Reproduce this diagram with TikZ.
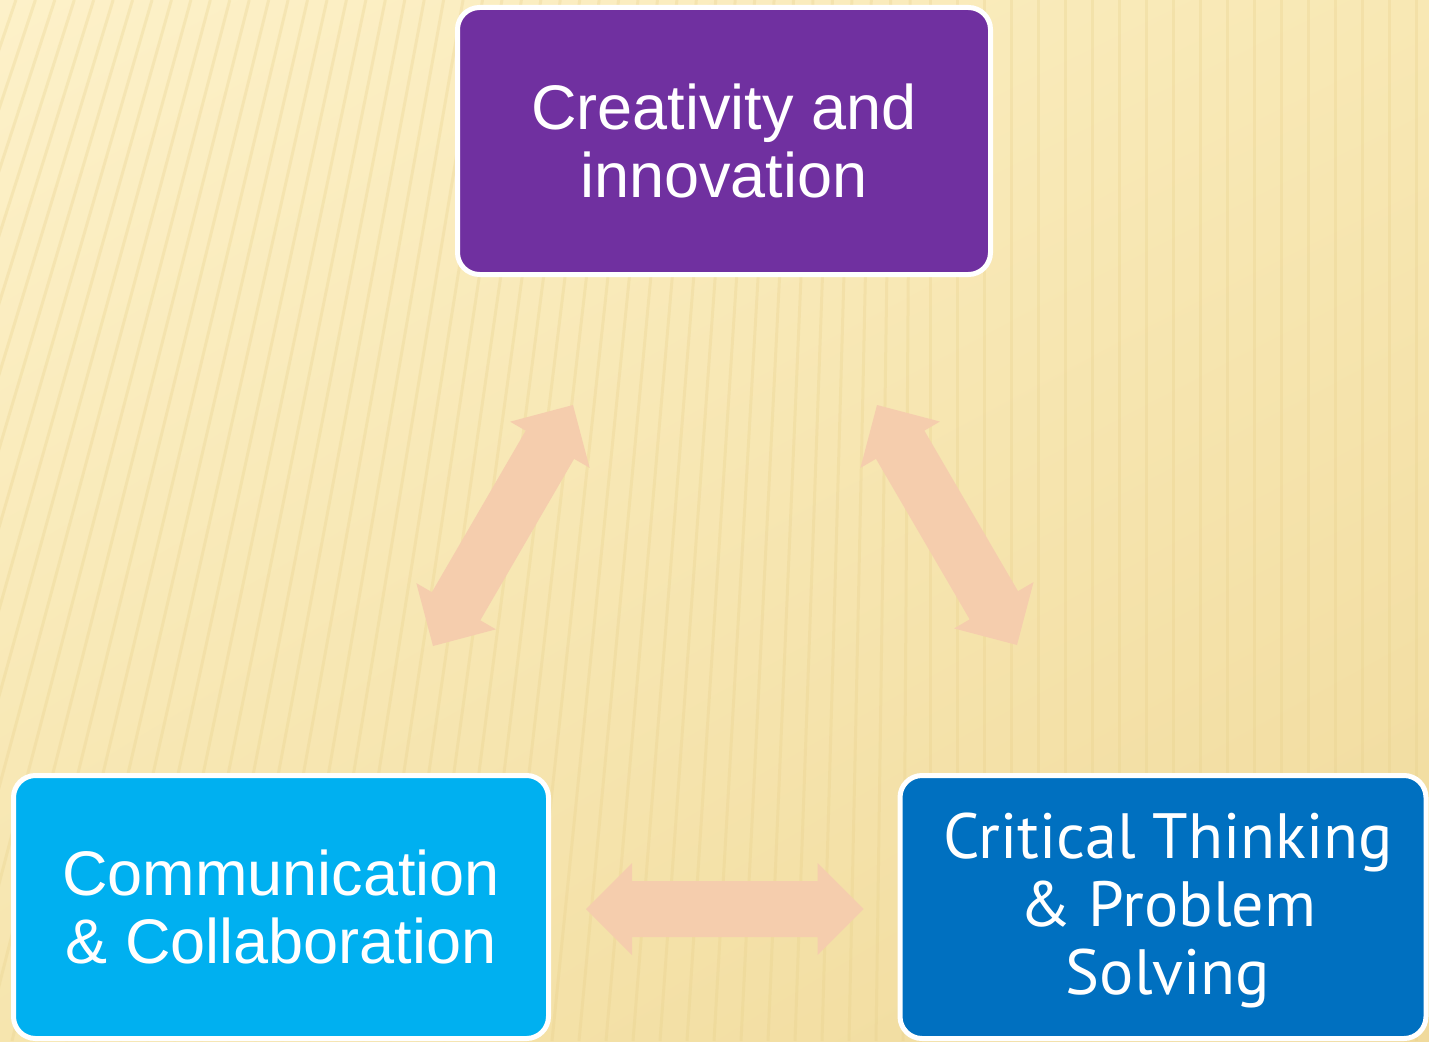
\documentclass[tikz,border=0pt]{standalone}
\usepackage{fontspec}
\setmainfont{Liberation Sans}
\newfontfamily\ptsans{PT Sans}
\usetikzlibrary{calc,shadings}
\definecolor{bgA}{HTML}{FDF1C9}
\definecolor{bgB}{HTML}{F8E8B4}
\definecolor{bgC}{HTML}{F6E5AE}
\definecolor{bgD}{HTML}{F0DA9C}
\definecolor{stripecol}{HTML}{E8D08A}
\definecolor{peach}{HTML}{F5CDAD}
\definecolor{violetbox}{HTML}{7030A0}
\definecolor{skybox}{HTML}{00B0F0}
\definecolor{bluebox}{HTML}{0070C0}
\newcommand\dblarrow[2]{%
  \path ($(#1)!46pt!(#2)$) coordinate (hA) ($(#2)!46pt!(#1)$) coordinate (hB);
  \fill[arrowfill] (#1) -- ($(hA)!46pt!90:(#2)$) -- ($(hA)!28pt!90:(#2)$)
    -- ($(hB)!28pt!-90:(#1)$) -- ($(hB)!46pt!-90:(#1)$) -- (#2)
    -- ($(hB)!46pt!90:(#1)$) -- ($(hB)!28pt!90:(#1)$)
    -- ($(hA)!28pt!-90:(#2)$) -- ($(hA)!46pt!-90:(#2)$) -- cycle;
}
\begin{document}
\begin{tikzpicture}[x=1pt,y=-1pt,
  box/.style={draw=white, line width=5pt, rounded corners=22pt, text=white,
    align=center, inner sep=0pt, minimum width=530pt, minimum height=264pt},
  arrowfill/.style={fill=peach},
  stripe/.style={draw=stripecol, line width=3pt, opacity=0.3}]
\useasboundingbox (0,0) rectangle (1429,1041);
\shade[upper left=bgA, upper right=bgB, lower left=bgC, lower right=bgD]
  (0,0) rectangle (1429,1041);
\begin{scope}
  \clip (0,0) rectangle (1429,1041);
  \foreach \x in {-420,-393,...,1460} {
    \draw[stripe] (\x,1041) -- ({\x+max(0,260-0.28*\x)},0);
  }
\end{scope}

\node[box, fill=violetbox, minimum width=533pt, minimum height=267pt,
  font=\fontsize{63}{68}\selectfont] (ci) at (724,141) {Creativity and\\innovation};
\node[box, fill=skybox, minimum width=535pt, minimum height=263pt,
  font=\fontsize{63}{68}\selectfont] (cc) at (281,907) {Communication\\\& Collaboration};
\node[box, fill=bluebox, minimum width=526pt, minimum height=263pt] (ct) at (1163,907) {};
\node[text=white, align=center, inner sep=0pt, text depth=0pt,
  font=\ptsans\fontsize{64}{68}\selectfont] (ctt) at (1168,904)
  {Critical Thinking\\\& Problem\\Solving};

\coordinate (l1) at (433,646);
\coordinate (l2) at (573,405);
\coordinate (r1) at (877,405);
\coordinate (r2) at (1017,645);
\coordinate (b1) at ($(cc.east)+(35,2)$);
\coordinate (b2) at ($(ct.west)+(-34,2)$);
\dblarrow{l1}{l2}
\dblarrow{r1}{r2}
\dblarrow{b1}{b2}
\end{tikzpicture}
\end{document}
